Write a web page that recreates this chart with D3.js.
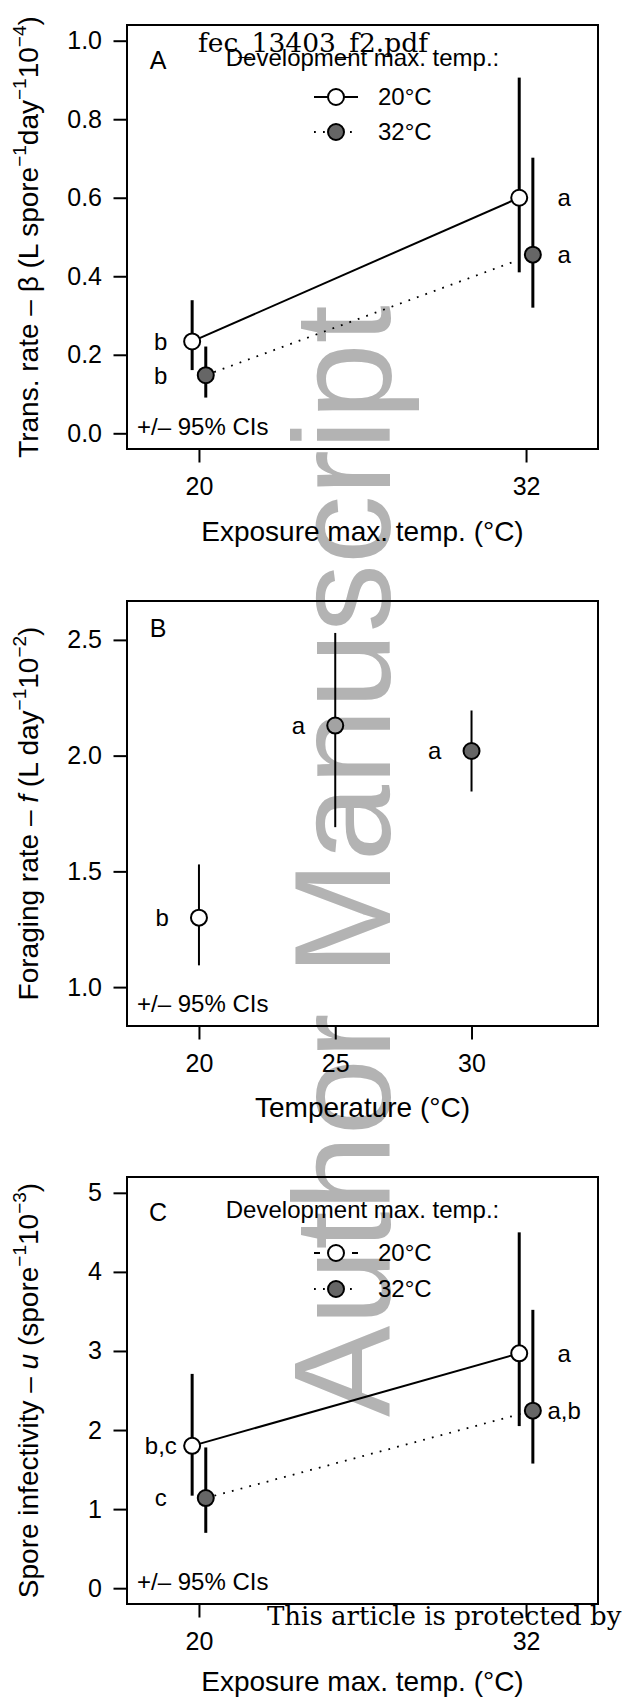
<!DOCTYPE html>
<html>
<head>
<meta charset="utf-8">
<script src="https://cdn.jsdelivr.net/npm/d3@7"></script>
<style>
  body { margin: 0; background: #fff; }
  svg text { font-family: 'Liberation Sans', Arial, sans-serif; fill: #000; }
</style>
</head>
<body>
<div id="chart"></div>
<script>
// data
var exposureTemps = [20, 32],
    devLabels = ['20\u00b0C', '32\u00b0C'];

// panel A: transmission rate (x 10^-4)
var betaMean20 = [0.234, 0.600], betaLo20 = [0.161, 0.410], betaHi20 = [0.339, 0.906],
    betaMean32 = [0.148, 0.455], betaLo32 = [0.091, 0.320], betaHi32 = [0.221, 0.702],
    betaLetters20 = ['b', 'a'], betaLetters32 = ['b', 'a'];

// panel B: foraging rate (x 10^-2)
var forageTemps = [20, 25, 30],
    forageMean = [1.30, 2.13, 2.02], forageLo = [1.094, 1.691, 1.845], forageHi = [1.530, 2.530, 2.195],
    forageLetters = ['b', 'a', 'a'];

// panel C: spore infectivity (x 10^-3)
var infMean20 = [1.80, 2.97], infLo20 = [1.17, 2.05], infHi20 = [2.71, 4.50],
    infMean32 = [1.14, 2.245], infLo32 = [0.70, 1.576], infHi32 = [1.78, 3.52],
    infLetters20 = ['b,c', 'a'], infLetters32 = ['c', 'a,b'];

// tick values
var ticksA = [0, 0.2, 0.4, 0.6, 0.8, 1.0],
    ticksB = [1.0, 1.5, 2.0, 2.5],
    ticksC = [0, 1, 2, 3, 4, 5],
    xTicksAC = [20, 32],
    xTicksB = [20, 25, 30];

var fillWhite = '#ffffff', fillDark = '#666666', fillMid = '#a3a3a3';

// layout
var W = 623, H = 1699,
    boxL = 127, boxR = 598,
    xlim = [18, 34], jit = 0.25;

var svg = d3.select('#chart').append('svg')
    .attr('width', W).attr('height', H);

// extend limits by 4% like R does
function ext(l) { var r = l[1] - l[0]; return [l[0] - 0.04 * r, l[1] + 0.04 * r]; }

var x = d3.scaleLinear().domain(ext(xlim)).range([boxL, boxR]);

// watermark sits behind everything
svg.append('text')
    .attr('transform', 'translate(390,1417) rotate(-90)')
    .style('font-size', '137px')
    .style('fill', '#b3b3b3')
    .text('Author Manuscript');

function ytitle(g, parts, cy) {
  var t = g.append('text')
      .attr('transform', 'translate(37.5,' + cy + ') rotate(-90)')
      .attr('text-anchor', 'middle')
      .style('font-size', '28px');
  var shift = 0;
  parts.forEach(function(p) {
    var s = t.append('tspan').text(p.t);
    if (p.sup) {
      s.attr('dy', -12).style('font-size', '19px');
      shift = 12;
    } else if (shift) {
      s.attr('dy', shift); shift = 0;
    }
    if (p.it) s.style('font-style', 'italic');
  });
}

function panel(cfg) {
  var y = d3.scaleLinear().domain(ext(cfg.ylim)).range([cfg.bottom, cfg.top]);
  var g = svg.append('g');

  // axes
  var ya = g.append('g').attr('transform', 'translate(' + boxL + ',0)')
      .call(d3.axisLeft(y).tickValues(cfg.yticks).tickSize(13.5).tickPadding(11.5)
        .tickFormat(cfg.yfmt));
  var xa = g.append('g').attr('transform', 'translate(0,' + cfg.bottom + ')')
      .call(d3.axisBottom(x).tickValues(cfg.xticks).tickSize(13.5).tickPadding(15)
        .tickFormat(d3.format('d')));
  [ya, xa].forEach(function(a) {
    a.select('.domain').remove();
    a.selectAll('line').attr('stroke', '#000').attr('stroke-width', 2);
    a.selectAll('text').style('font-size', '25px').attr('fill', '#000')
      .style('font-family', "'Liberation Sans', Arial, sans-serif");
  });

  // box
  g.append('rect')
      .attr('x', boxL).attr('y', cfg.top)
      .attr('width', boxR - boxL).attr('height', cfg.bottom - cfg.top)
      .attr('fill', 'none').attr('stroke', '#000').attr('stroke-width', 2);

  // titles
  g.append('text')
      .attr('x', (boxL + boxR) / 2).attr('y', cfg.bottom + cfg.xtOff)
      .attr('dy', '0.35em')
      .attr('text-anchor', 'middle')
      .style('font-size', '28px')
      .text(cfg.xtitle);
  ytitle(g, cfg.ytitle, (cfg.top + cfg.bottom) / 2);

  // panel letter and CI note
  g.append('text').attr('x', x(18.5)).attr('y', y(cfg.letterY)).attr('dy', '0.35em')
      .attr('text-anchor', 'middle').style('font-size', '25px').text(cfg.letter);
  g.append('text').attr('x', 137).attr('y', cfg.bottom - 22).attr('dy', '0.35em')
      .style('font-size', '24px').text('+/\u2013 95% CIs');

  return { g: g, y: y };
}

function series(p, xs, mean, lo, hi, fill, letters, lx, dashed, lw) {
  var g = p.g, y = p.y;
  var pts = xs.map(function(d, i) { return [x(d), y(mean[i])]; });
  if (dashed !== null) {
    g.append('path')
        .attr('d', d3.line()(pts))
        .attr('fill', 'none').attr('stroke', '#000')
        .attr('stroke-width', dashed ? 1.8 : 2)
        .attr('stroke-dasharray', dashed ? '1.8,7.2' : null);
  }
  g.selectAll(null).data(xs).enter().append('line')
      .attr('x1', function(d) { return x(d); }).attr('x2', function(d) { return x(d); })
      .attr('y1', function(d, i) { return y(lo[i]); })
      .attr('y2', function(d, i) { return y(hi[i]); })
      .attr('stroke', '#000').attr('stroke-width', lw);
  g.selectAll(null).data(xs).enter().append('circle')
      .attr('cx', function(d) { return x(d); })
      .attr('cy', function(d, i) { return y(mean[i]); })
      .attr('r', 8)
      .attr('fill', function(d, i) { return Array.isArray(fill) ? fill[i] : fill; })
      .attr('stroke', '#000').attr('stroke-width', 2);
  g.selectAll(null).data(letters).enter().append('text')
      .attr('x', function(d, i) { return x(lx[i]); })
      .attr('y', function(d, i) { return y(mean[i]); })
      .attr('dy', '0.35em')
      .attr('text-anchor', 'middle')
      .style('font-size', '24px')
      .text(function(d) { return d; });
}

function legend(p, top, rows, shortDash) {
  var g = p.g, cx = (boxL + boxR) / 2;
  g.append('text').attr('x', cx).attr('y', top + 41)
      .attr('text-anchor', 'middle').style('font-size', '24px')
      .text('Development max. temp.:');
  var fills = [fillWhite, fillDark];
  devLabels.forEach(function(lab, i) {
    var ry = top + rows[i];
    g.append('line').attr('x1', 314).attr('x2', 358).attr('y1', ry).attr('y2', ry)
        .attr('stroke', '#000').attr('stroke-width', i ? 1.8 : 2)
        .attr('stroke-dasharray', i ? '1.8,7.2' : (shortDash ? '6,32' : null));
    g.append('circle').attr('cx', 336).attr('cy', ry).attr('r', 8)
        .attr('fill', fills[i]).attr('stroke', '#000').attr('stroke-width', 2);
    g.append('text').attr('x', 378).attr('y', ry).attr('dy', '0.35em')
        .style('font-size', '24px').text(lab);
  });
}

var xw = exposureTemps.map(function(d) { return d - jit; }),
    xg = exposureTemps.map(function(d) { return d + jit; }),
    lxA = exposureTemps.map(function(d) { return d < 25 ? d - 1.4 : d + 1.4; });

// Panel A
var pA = panel({
  top: 25, bottom: 449, ylim: [0, 1], yticks: ticksA, yfmt: d3.format('.1f'),
  xticks: xTicksAC, xtitle: 'Exposure max. temp. (\u00b0C)', xtOff: 82, letter: 'A', letterY: 0.95,
  ytitle: [{t: 'Trans. rate \u2013 \u03b2 (L spore'}, {t: '\u22121', sup: true}, {t: 'day'},
           {t: '\u22121', sup: true}, {t: '10'}, {t: '\u22124', sup: true}, {t: ')'}]
});
series(pA, xw, betaMean20, betaLo20, betaHi20, fillWhite, betaLetters20, lxA, false, 3);
series(pA, xg, betaMean32, betaLo32, betaHi32, fillDark, betaLetters32, lxA, true, 3);
legend(pA, 25, [72, 107], false);

// Panel B
var pB = panel({
  top: 601, bottom: 1026, ylim: [0.9, 2.6], yticks: ticksB, yfmt: d3.format('.1f'),
  xticks: xTicksB, xtitle: 'Temperature (\u00b0C)', xtOff: 81, letter: 'B', letterY: 2.55,
  ytitle: [{t: 'Foraging rate \u2013 '}, {t: 'f', it: true}, {t: ' (L day'},
           {t: '\u22121', sup: true}, {t: '10'}, {t: '\u22122', sup: true}, {t: ')'}]
});
series(pB, forageTemps, forageMean, forageLo, forageHi, [fillWhite, fillMid, fillDark],
       forageLetters, forageTemps.map(function(d) { return d - 1.35; }), null, 2);

// Panel C
var pC = panel({
  top: 1177, bottom: 1604, ylim: [0, 5], yticks: ticksC, yfmt: d3.format('d'),
  xticks: xTicksAC, xtitle: 'Exposure max. temp. (\u00b0C)', xtOff: 77, letter: 'C', letterY: 4.75,
  ytitle: [{t: 'Spore infectivity \u2013 '}, {t: 'u', it: true}, {t: ' (spore'},
           {t: '\u22121', sup: true}, {t: '10'}, {t: '\u22123', sup: true}, {t: ')'}]
});
series(pC, xw, infMean20, infLo20, infHi20, fillWhite, infLetters20, lxA, false, 3);
series(pC, xg, infMean32, infLo32, infHi32, fillDark, infLetters32, lxA, true, 3);
legend(pC, 1177, [76, 112], true);

// page stamps from the source pdf
svg.append('text').attr('x', 198).attr('y', 52)
    .style('font-family', "'DejaVu Serif', serif").style('font-size', '26.5px')
    .text('fec_13403_f2.pdf');
svg.append('text').attr('x', 267).attr('y', 1625)
    .style('font-family', "'DejaVu Serif', serif").style('font-size', '26px')
    .text('This article is protected by');
</script>
</body>
</html>
